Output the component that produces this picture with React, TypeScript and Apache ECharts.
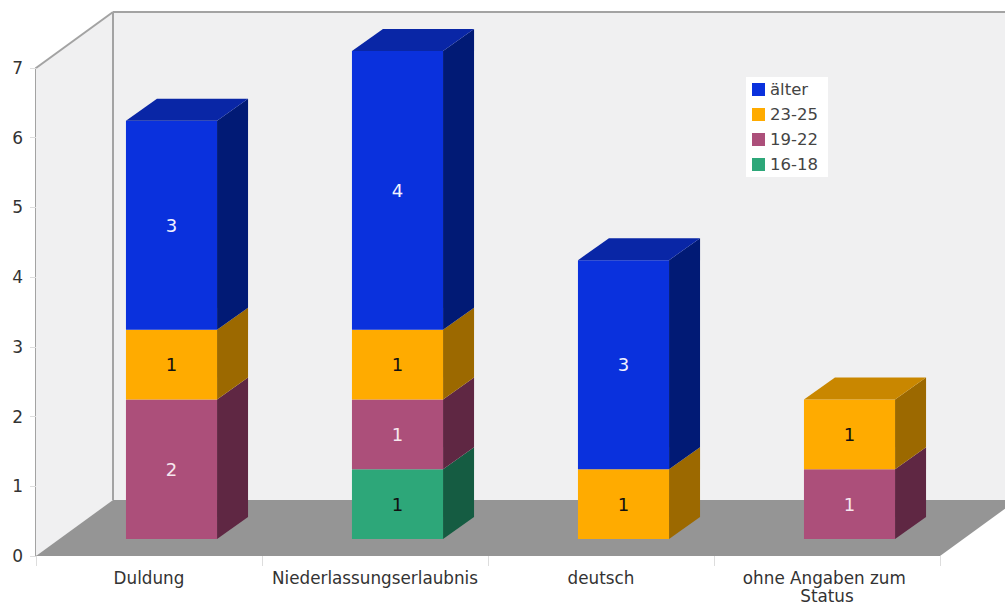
import React, { useEffect, useRef } from "react";
import * as echarts from "echarts";

const categories = ["Duldung", "Niederlassungserlaubnis", "deutsch", "ohne Angaben zum Status"];
const ageGroups = ["16-18", "19-22", "23-25", "älter"];
const values1618 = [0, 1, 0, 0];
const values1922 = [2, 1, 0, 1];
const values2325 = [1, 1, 1, 1];
const valuesAelter = [3, 4, 3, 0];
const yTicks = { min: 0, max: 7, interval: 1 };

const seriesValues = [values1618, values1922, values2325, valuesAelter];
const frontColors = ["#2da779", "#ac4f7a", "#ffab00", "#0a31dd"];
const sideColors = ["#155c42", "#5f2743", "#9c6900", "#011a75"];
const topColors = ["#1f7a58", "#7a3858", "#c98700", "#0926a6"];
const labelColors = ["#111111", "#f6e6ee", "#111111", "#f2f2ff"];

// Oblique projection of the 3D box: the full room depth and the depth of one bar.
const ROOM_DX = 77;
const ROOM_DY = -56;
const BAR_DX = 31;
const BAR_DY = -22;
const BAR_SHIFT_X = 22.5;
const BAR_SHIFT_Y = -17;
const BAR_RATIO = 0.403;
const FONT = '"DejaVu Sans", Verdana, sans-serif';

// Running stack totals, so each segment starts where the one below it ends.
function stackedRows(layer: number) {
  return categories
    .map((_, c) => {
      const base = seriesValues.slice(0, layer).reduce((s, arr) => s + arr[c], 0);
      const value = seriesValues[layer][c];
      const above = seriesValues.slice(layer + 1).reduce((s, arr) => s + arr[c], 0);
      return [c, base, base + value, value, above === 0 ? 1 : 0];
    })
    .filter((row) => row[3] > 0);
}

function renderSegment(layer: number) {
  return (_params: any, api: any) => {
    const c = api.value(0);
    const [cx, y0] = api.coord([c, api.value(1)]);
    const [, y1] = api.coord([c, api.value(2)]);
    const w = api.size([1, 0])[0] * BAR_RATIO;
    const left = cx + BAR_SHIFT_X - w / 2;
    const right = left + w;
    const bottom = y0 + BAR_SHIFT_Y;
    const top = y1 + BAR_SHIFT_Y;
    const children: any[] = [
      {
        type: "polygon",
        shape: {
          points: [
            [right, top],
            [right + BAR_DX, top + BAR_DY],
            [right + BAR_DX, bottom + BAR_DY],
            [right, bottom],
          ],
        },
        style: { fill: sideColors[layer] },
      },
      {
        type: "rect",
        shape: { x: left, y: top, width: w, height: bottom - top },
        style: { fill: frontColors[layer] },
      },
    ];
    if (api.value(4) === 1) {
      children.push({
        type: "polygon",
        shape: {
          points: [
            [left, top],
            [right, top],
            [right + BAR_DX, top + BAR_DY],
            [left + BAR_DX, top + BAR_DY],
          ],
        },
        style: { fill: topColors[layer] },
      });
    }
    children.push({
      type: "text",
      style: {
        text: String(api.value(3)),
        x: (left + right) / 2,
        y: (top + bottom) / 2,
        align: "center",
        verticalAlign: "middle",
        fill: labelColors[layer],
        font: `18px ${FONT}`,
      },
    });
    return { type: "group", children };
  };
}

// Back wall, side wall and floor of the chart's box.
function renderRoom(params: any) {
  const { x, y, width, height } = params.coordSys;
  const b = y + height;
  const r = x + width;
  const edge = { stroke: "#a3a3a3", lineWidth: 2 };
  return {
    type: "group",
    children: [
      {
        type: "polygon",
        shape: {
          points: [
            [x, y],
            [x + ROOM_DX, y + ROOM_DY],
            [x + ROOM_DX, b + ROOM_DY],
            [x, b],
          ],
        },
        style: { fill: "#f0f0f1" },
      },
      {
        type: "rect",
        shape: { x: x + ROOM_DX, y: y + ROOM_DY, width: width, height },
        style: { fill: "#f0f0f1" },
      },
      {
        type: "polygon",
        shape: {
          points: [
            [x, b],
            [x + ROOM_DX, b + ROOM_DY],
            [r + ROOM_DX, b + ROOM_DY],
            [r, b],
          ],
        },
        style: { fill: "#959595" },
      },
      { type: "line", shape: { x1: x, y1: y, x2: x + ROOM_DX, y2: y + ROOM_DY }, style: edge },
      { type: "line", shape: { x1: x + ROOM_DX, y1: y + ROOM_DY, x2: x + ROOM_DX, y2: b + ROOM_DY }, style: edge },
      { type: "line", shape: { x1: x + ROOM_DX, y1: y + ROOM_DY, x2: r + ROOM_DX, y2: y + ROOM_DY }, style: edge },
    ],
  };
}

export default function App() {
  const ref = useRef<HTMLDivElement>(null);

  useEffect(() => {
    document.body.style.margin = "0";
    const chart = echarts.init(ref.current!, undefined, { renderer: "svg" });
    chart.setOption({
      animation: false,
      backgroundColor: "#ffffff",
      textStyle: { fontFamily: FONT },
      grid: { left: 36, right: 65, top: 68, bottom: 49, outerBoundsMode: "none", containLabel: false },
      legend: {
        orient: "vertical",
        left: 746,
        top: 77,
        padding: [4, 10, 4, 6],
        backgroundColor: "#ffffff",
        itemWidth: 13,
        itemHeight: 13,
        itemGap: 8,
        icon: "rect",
        data: [...ageGroups].reverse(),
        textStyle: { color: "#444444", fontSize: 16.5, fontFamily: FONT },
      },
      xAxis: {
        type: "category",
        data: categories,
        axisLine: { show: false },
        axisTick: { show: true, length: 10, lineStyle: { color: "#dddddd" } },
        axisLabel: {
          color: "#333333",
          fontSize: 16.8,
          margin: 13,
          lineHeight: 18,
          width: 216,
          overflow: "break",
          fontFamily: FONT,
          interval: 0,
        },
      },
      yAxis: {
        type: "value",
        min: yTicks.min,
        max: yTicks.max,
        interval: yTicks.interval,
        axisLine: { show: true, lineStyle: { color: "#a3a3a3", width: 2 } },
        axisTick: { show: true, length: 6, lineStyle: { color: "#dddddd" } },
        axisLabel: { color: "#333333", fontSize: 17, margin: 13, fontFamily: FONT },
        splitLine: { show: false },
      },
      series: [
        {
          type: "custom",
          name: "room",
          silent: true,
          clip: false,
          data: [[0, 0]],
          renderItem: renderRoom,
        },
        ...ageGroups.map((name, layer) => ({
          type: "custom",
          name,
          clip: false,
          itemStyle: { color: frontColors[layer] },
          encode: { x: 0, y: [1, 2] },
          data: stackedRows(layer),
          renderItem: renderSegment(layer),
        })),
      ],
    });
    return () => chart.dispose();
  }, []);

  return <div ref={ref} style={{ width: 1005, height: 605, overflow: "hidden" }} />;
}
